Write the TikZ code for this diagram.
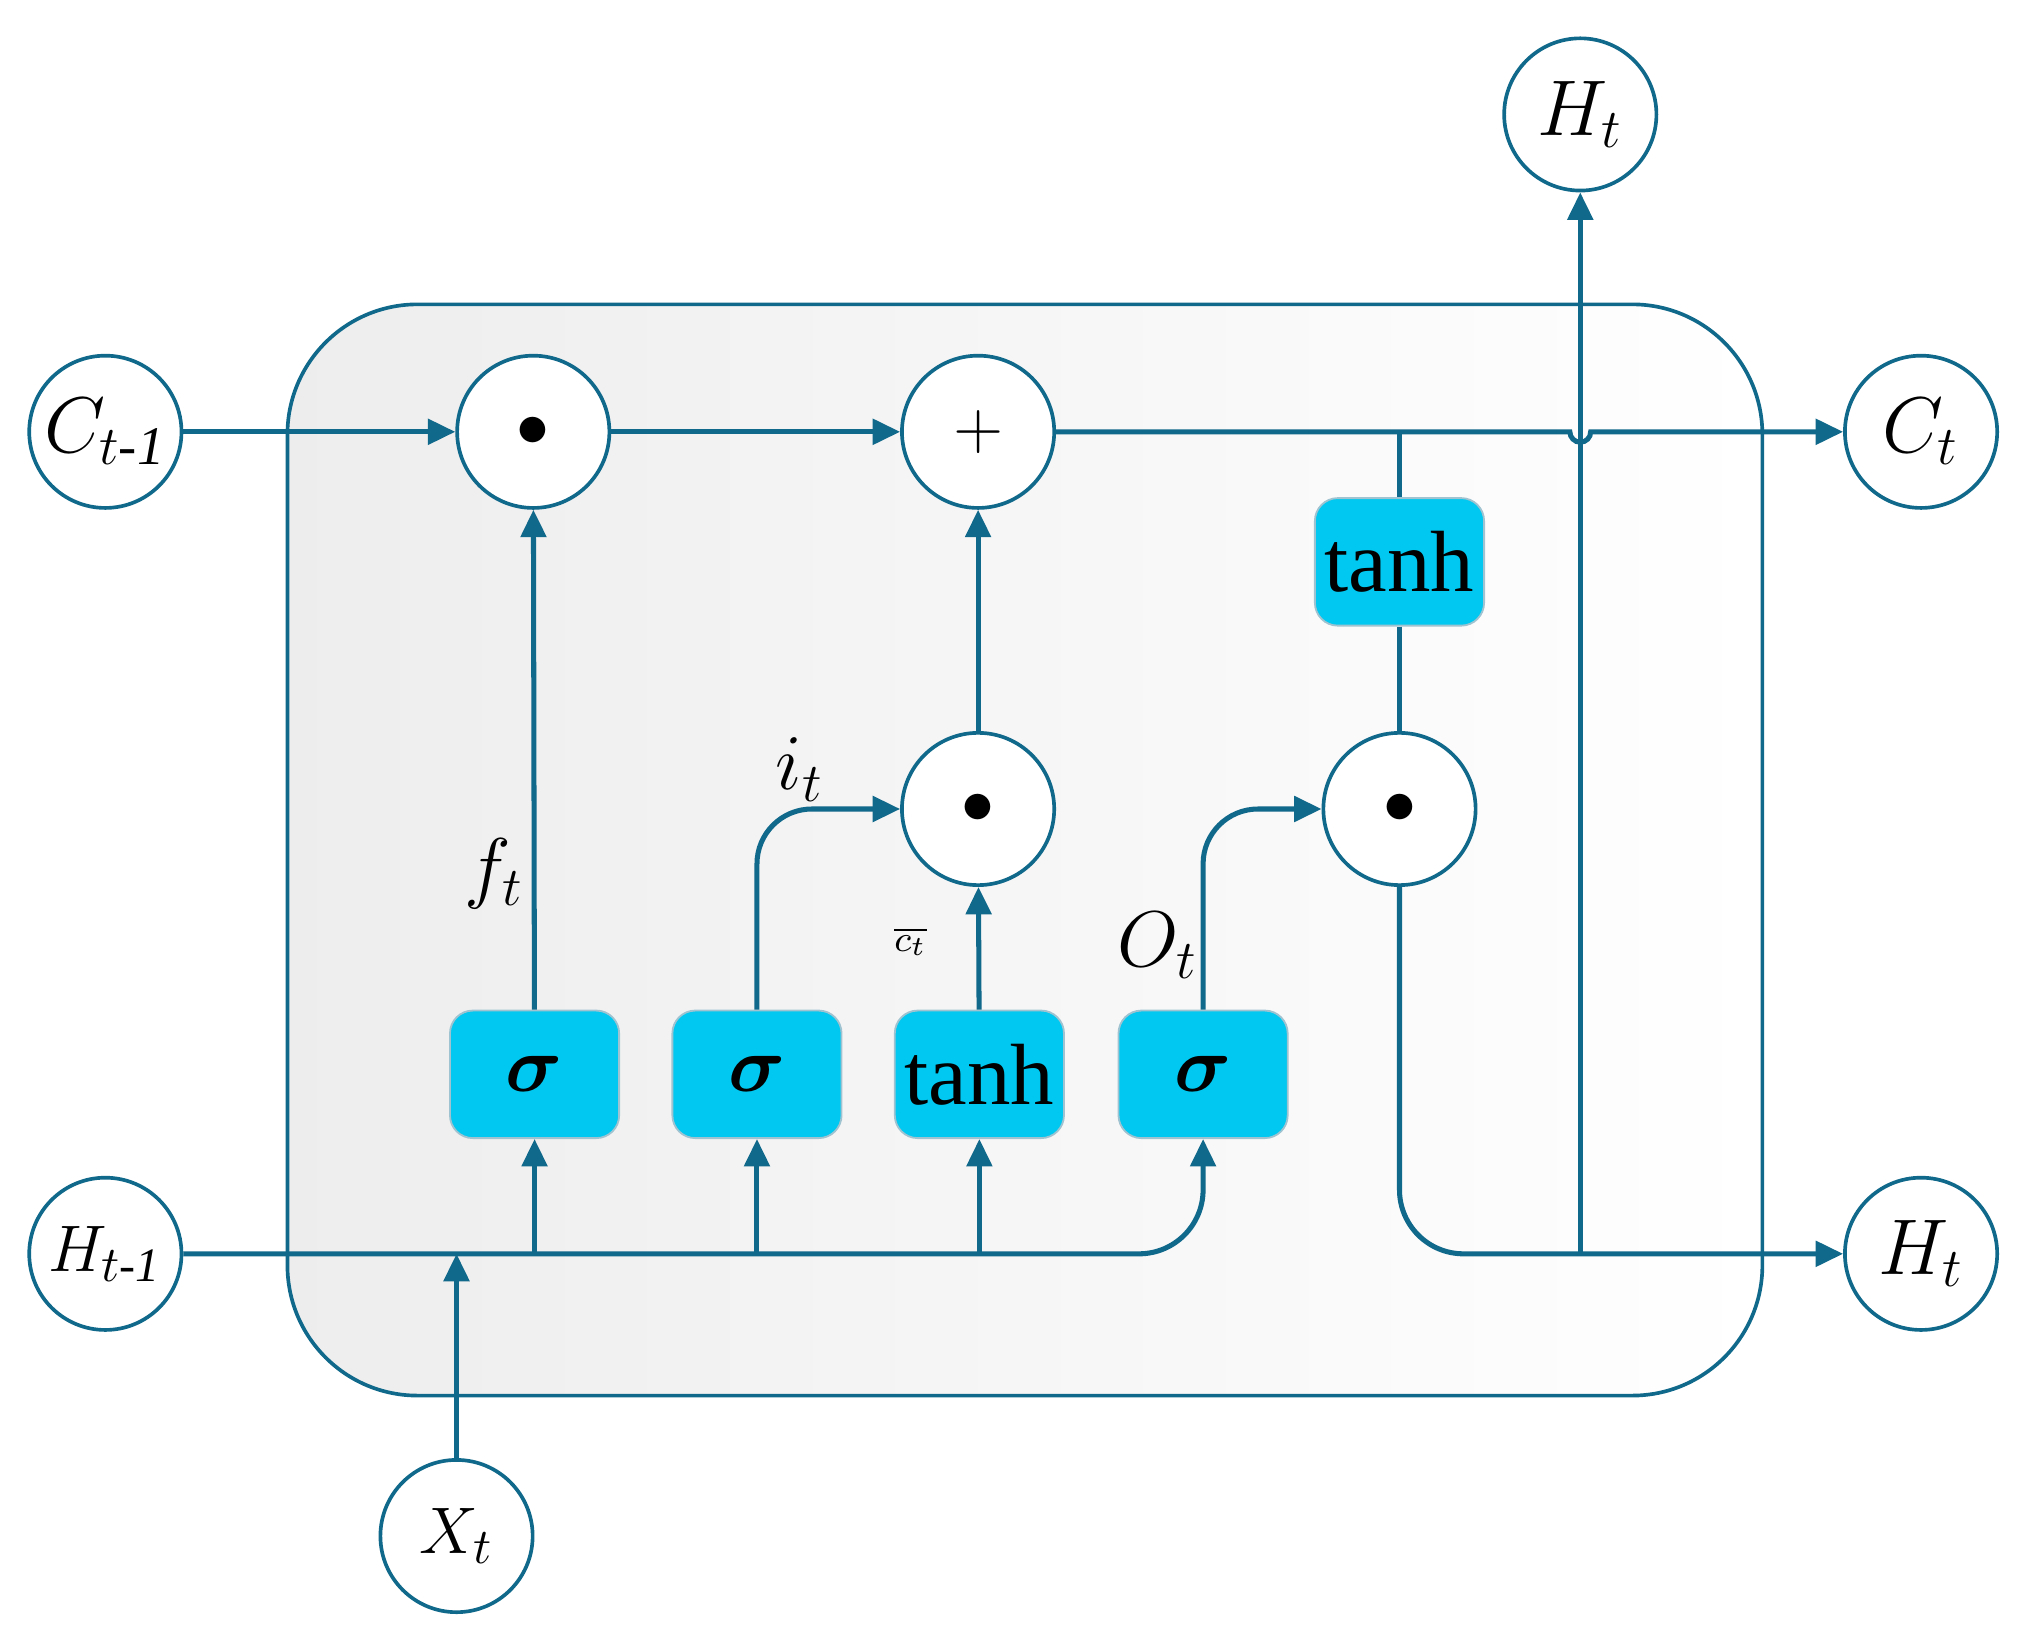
\documentclass[tikz,border=0pt]{standalone}
\usepackage{amsmath, amssymb}
\usepackage{fontspec}
\setmainfont{Liberation Serif}
\usetikzlibrary{arrows.meta, positioning}
\definecolor{lineblue}{RGB}{16,104,138}
\definecolor{gatecyan}{RGB}{0,200,240}
\tikzset {
    x=0.01cm, y=-0.01cm,
    >={Triangle[length=6pt,width=5.5pt]},
    flow/.style={draw=lineblue, line width=1.1pt},
    port/.style={circle, draw=lineblue, fill=white, line width=0.8pt, minimum size=1.17cm, inner sep=0pt, font=\fontsize{17}{19}\selectfont\itshape},
    op/.style={port, font=\fontsize{15}{17}\selectfont},
    gate/.style={rectangle, rounded corners=5pt, draw=lineblue!40, fill=gatecyan, minimum width=1.3cm, minimum height=0.98cm, inner sep=0pt, font=\fontsize{19}{21}\selectfont},
    lbl/.style={font=\fontsize{17}{19}\selectfont\itshape}
}
\begin{document}
\begin{tikzpicture}
\useasboundingbox (0,0) rectangle (1560,1264);
% cell body
\shade[shading angle=-60, left color=gray!14, right color=white, draw=lineblue, line width=0.8pt, rounded corners=1cm]
    (221,234) rectangle (1355,1073);

\node[port] (cprev) at (81,332) {$C_{t\text{-}\mathit{1}}$};
\node[port] (hprev) at (81,964) {\fontsize{15}{17}\selectfont$H_{t\text{-}\mathit{1}}$};
\node[port] (xt) at (351,1181) {\fontsize{15}{17}\selectfont$X_t$};
\node[port] (cnext) at (1477,332) {$C_t$};
\node[port] (hnext) at (1477,964) {$H_t$};
\node[port] (hout) at (1215,88) {$H_t$};

\node[op] (fmul) at (410,332) {$\bullet$};
\node[op] (cadd) at (752,332) {$+$};
\node[op] (imul) at (752,622) {$\bullet$};
\node[op] (omul) at (1076,622) {$\bullet$};

\node[gate] (fg) at (411,826) {$\boldsymbol{\sigma}$};
\node[gate] (ig) at (582,826) {$\boldsymbol{\sigma}$};
\node[gate] (cg) at (753,826) {tanh};
\node[gate] (og) at (925,826) {$\boldsymbol{\sigma}$};
\node[gate] (tg) at (1076,432) {tanh};

\coordinate (xin) at (351,964);
\coordinate (ctap) at (1076,332);
\coordinate (hsplit) at (1215,964);

% cell state
\draw[flow, ->] (cprev) -- (fmul);
\draw[flow, ->] (fmul) -- (cadd);
\draw[flow, ->] (cadd) -- (1207,332) arc (180:0:8) -- (cnext);
\draw[flow] (ctap) -- (tg) -- (omul);

% gates
\draw[flow, ->] (fg) -- (fmul);
\draw[flow, ->, rounded corners=12pt] (ig) |- (imul);
\draw[flow, ->] (cg) -- (imul);
\draw[flow, ->] (imul) -- (cadd);
\draw[flow, ->, rounded corners=12pt] (og) |- (omul);

% inputs
\draw[flow, ->, rounded corners=14pt] (hprev) -| (og);
\draw[flow, ->] (411,964) -- (fg);
\draw[flow, ->] (582,964) -- (ig);
\draw[flow, ->] (753,964) -- (cg);
\draw[flow, ->] (xt) -- (xin);

% output
\draw[flow, ->, rounded corners=14pt] (omul) |- (hnext);
\draw[flow, ->] (hsplit) -- (hout);

\node[lbl] at (380,672) {$f_t$};
\node[lbl] at (615,592) {$i_t$};
\node[font=\fontsize{8}{9}\selectfont\itshape] at (700,724) {$\overline{c_t}$};
\node[lbl] at (890,727) {$O_t$};
\end{tikzpicture}
\end{document}
